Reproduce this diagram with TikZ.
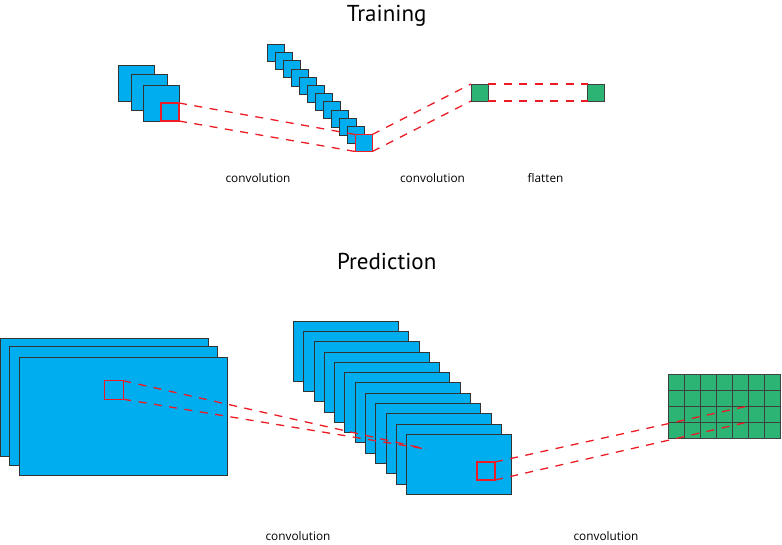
\documentclass[tikz,border=0pt]{standalone}
\usepackage{fontspec}
\setmainfont{PT Sans}
\newfontfamily\lblfont{Open Sans}
\definecolor{cblue}{RGB}{0,174,239}
\definecolor{cgreen}{RGB}{44,180,116}
\definecolor{cred}{RGB}{237,28,36}
\begin{document}
\begin{tikzpicture}[x=1pt,y=-1pt,
 box/.style={draw=black!80, fill=cblue, line width=0.8pt, inner sep=0pt, outer sep=0pt},
 gbox/.style={draw=black!75, fill=cgreen, line width=0.8pt, inner sep=0pt, outer sep=0pt, minimum size=17pt},
 redbox/.style={draw=cred, line width=1.4pt, inner sep=0pt, outer sep=0pt},
 link/.style={draw=cred, line width=1.3pt, dash pattern=on 8pt off 7.5pt},
 lbl/.style={font=\lblfont\fontsize{11.8}{13}\selectfont, anchor=base, inner sep=0pt},
 ttl/.style={font=\fontsize{23}{26}\selectfont, anchor=base, inner sep=0pt}]
\useasboundingbox (0,0) rectangle (782,544);

% ---------- Training ----------
\node[ttl] (t1) at (386.7,21) {Training};
\node[box, minimum size=36pt] (a0) at (136,83) {};
\node[box, minimum size=36pt] (a1) at (149,92.5) {};
\node[box, minimum size=36pt] (a2) at (161.5,103) {};
\node[redbox, minimum size=18pt] (r1) at (170,112) {};

\foreach \i in {0,...,10}
  \node[box, minimum size=17pt] (d\i) at ({275.8+8*\i},{52.8+8.2*\i}) {};
\node[box, draw=cred, line width=1.4pt, minimum size=17pt] (d11) at (363.8,143) {};

\node[gbox] (g1) at (479.5,92.5) {};
\node[gbox] (g2) at (596,92.5) {};

\draw[link] (r1.north east) -- (d11.north west);
\draw[link] (r1.south east) -- (d11.south west);
\draw[link] (d11.north east) -- (g1.north west);
\draw[link] (d11.south east) -- (g1.south west);
\draw[link] (g1.north east) -- (g2.north west);
\draw[link] (g1.south east) -- (g2.south west);

\node[lbl] (l1) at (258,182) {convolution};
\node[lbl] (l2) at (432.5,182) {convolution};
\node[lbl] (l3) at (545.5,182) {flatten};

% ---------- Prediction ----------
\node[ttl] (t2) at (386.7,269.5) {Prediction};
\node[box, minimum width=208pt, minimum height=118.5pt] (b0) at (104.7,397.3) {};
\node[box, minimum width=208pt, minimum height=118.5pt] (b1) at (113.5,406) {};
\node[box, minimum width=208pt, minimum height=118.5pt] (b2) at (123.5,416.5) {};
\node[redbox, minimum width=19pt, minimum height=18.5pt] (rb1) at (113.8,390) {};

\foreach \i in {0,...,11}
  \node[box, minimum width=105pt, minimum height=60pt] (m\i) at ({345.8+10.31*\i},{351+10.3*\i}) {};
\node[redbox, minimum size=18pt] (rb2) at (486,471) {};
\coordinate (conv) at (426,449);

\foreach \c in {0,...,6}
  \foreach \r in {0,...,3}
    \node[gbox, minimum size=16pt] (c-\c-\r) at ({676+16*\c},{382+16*\r}) {};

\draw[link] (rb1.north east) -- (conv);
\draw[link] (rb1.south east) -- (conv);
\draw[link] (rb2.north east) -- (c-5-2.north west);
\draw[link] (rb2.south east) -- (c-5-2.south west);

\node[lbl] (l4) at (298,540.5) {convolution};
\node[lbl] (l5) at (606,540.5) {convolution};
\end{tikzpicture}
\end{document}
